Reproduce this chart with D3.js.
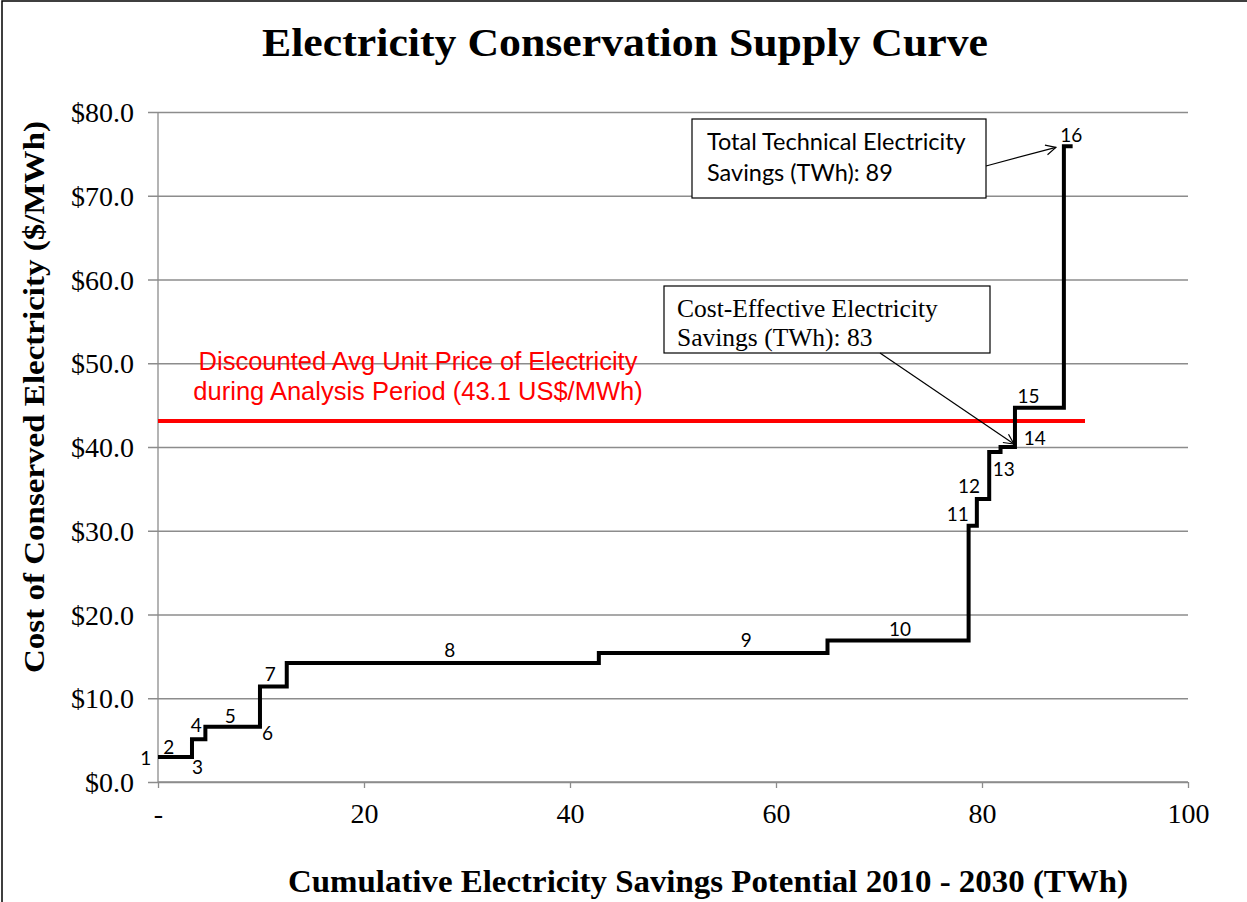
<!DOCTYPE html>
<html>
<head>
<meta charset="utf-8">
<script src="https://cdn.jsdelivr.net/npm/d3@7"></script>
<style>
  body { margin: 0; background: #fff; }
  .grid line { stroke: #8c8c8c; stroke-width: 1.3; }
  .grid path { display: none; }
</style>
</head>
<body>
<div id="chart"></div>
<script>
// measure ids, cumulative savings at end of each measure (TWh), cost of conserved electricity ($/MWh)
const measureIds = [1, 2, 3, 4, 5, 6, 7, 8, 9, 10, 11, 12, 13, 14, 15, 16];
const cumulativeSavings = [0.15, 3.3, 4.0, 4.6, 9.8, 9.9, 12.5, 42.8, 65.0, 78.7, 79.5, 80.7, 81.8, 83.2, 87.95, 88.8];
const costPerMWh = [3.0, 3.0, 5.1, 5.1, 6.6, 6.6, 11.4, 14.2, 15.4, 16.9, 30.6, 33.8, 39.4, 40.0, 44.7, 75.9];

const yTicks = [0, 10, 20, 30, 40, 50, 60, 70, 80];
const xTicks = [0, 20, 40, 60, 80, 100];
const avgPrice = 43.1;
const avgPriceEnd = 90;
const totalSavings = 89;
const costEffectiveSavings = 83;

// label placement (px, relative to middle of each step)
const labelOffsets = [[-13, 1], [-7, -10], [2, 27], [-6, -15], [-2, -11], [8, 6], [-3, -13], [7, -14],
  [33, -14], [2, -12], [-15, -12], [-14, -13], [9, 16], [27, -10], [-11, -12], [3, -12]];

const serif = "'Liberation Serif', 'Times New Roman', serif";
const W = 1247, H = 902;
const margin = { top: 112, right: 59, bottom: 120, left: 158 };
const width = W - margin.left - margin.right,
      height = H - margin.top - margin.bottom;

const svg = d3.select("#chart").append("svg")
    .attr("width", W)
    .attr("height", H);

svg.append("rect")
    .attr("x", 2).attr("y", 1)
    .attr("width", W + 20).attr("height", H + 20)
    .attr("fill", "#fff").attr("stroke", "#000").attr("stroke-width", 1.5);

svg.append("defs").append("marker")
    .attr("id", "arrow")
    .attr("viewBox", "0 0 12 12")
    .attr("refX", 11).attr("refY", 6)
    .attr("markerWidth", 12).attr("markerHeight", 12)
    .attr("markerUnits", "userSpaceOnUse")
    .attr("orient", "auto")
    .append("path")
    .attr("d", "M1,1 L11,6 L1,11")
    .attr("fill", "none").attr("stroke", "#000").attr("stroke-width", 1.2);

const g = svg.append("g").attr("transform", "translate(" + margin.left + "," + margin.top + ")");

const x = d3.scaleLinear().domain([0, 100]).range([0, width]);
const y = d3.scaleLinear().domain([0, 80]).range([height, 0]);

// horizontal gridlines + y labels
g.append("g")
    .attr("class", "grid")
    .call(d3.axisLeft(y).tickValues(yTicks).tickSize(-width).tickSizeOuter(0)
        .tickFormat(d => "$" + d.toFixed(1)))
    .call(s => s.selectAll(".tick line").attr("x1", -10))
    .call(s => s.selectAll(".tick text").attr("x", -24).attr("dy", "0.34em")
        .style("font-family", serif).style("font-size", "28px").attr("fill", "#000"));

// y axis line
g.append("line")
    .attr("x1", 0).attr("x2", 0).attr("y1", 0).attr("y2", height)
    .attr("stroke", "#8c8c8c").attr("stroke-width", 1.3);

// x axis
g.append("g")
    .attr("class", "grid")
    .attr("transform", "translate(0," + height + ")")
    .call(d3.axisBottom(x).tickValues(xTicks).tickSize(6).tickSizeOuter(0)
        .tickFormat(d => d === 0 ? "-" : d))
    .call(s => s.selectAll(".tick text").attr("y", 21).attr("dy", "0.71em")
        .style("font-family", serif).style("font-size", "28px").attr("fill", "#000"));

g.append("line")
    .attr("x1", 0).attr("x2", width).attr("y1", height).attr("y2", height)
    .attr("stroke", "#8c8c8c").attr("stroke-width", 1.3);

// supply curve
const steps = measureIds.map((id, i) => ({
    id: id,
    start: i === 0 ? 0 : cumulativeSavings[i - 1],
    end: cumulativeSavings[i],
    cost: costPerMWh[i]
}));

const pts = [[0, costPerMWh[0]]].concat(steps.map(d => [d.end, d.cost]));

const line = d3.line()
    .x(d => x(d[0]))
    .y(d => y(d[1]))
    .curve(d3.curveStepBefore);

// average price line
g.append("line")
    .attr("x1", x(0)).attr("x2", x(avgPriceEnd))
    .attr("y1", y(avgPrice)).attr("y2", y(avgPrice))
    .attr("stroke", "#ff0000").attr("stroke-width", 4);

g.append("path")
    .datum(pts)
    .attr("d", line)
    .attr("fill", "none")
    .attr("stroke", "#000")
    .attr("stroke-width", 4)
    .attr("stroke-linejoin", "miter");

g.selectAll(".step-label")
    .data(steps)
    .enter().append("text")
    .attr("class", "step-label")
    .attr("x", (d, i) => (x(d.start) + x(d.end)) / 2 + labelOffsets[i][0])
    .attr("y", (d, i) => y(d.cost) + labelOffsets[i][1])
    .attr("text-anchor", "middle")
    .attr("dominant-baseline", "central")
    .style("font-family", "Lato, 'Open Sans', sans-serif")
    .style("font-size", "19px")
    .text(d => d.id);

// red annotation
const redText = svg.append("text")
    .attr("text-anchor", "middle")
    .style("font-family", "'Liberation Sans', Arial, sans-serif")
    .style("font-size", "25.5px")
    .attr("fill", "#ff0000");
redText.append("tspan").attr("x", 418).attr("y", 370).text("Discounted Avg Unit Price of Electricity");
redText.append("tspan").attr("x", 418).attr("y", 400).text("during Analysis Period (" + avgPrice + " US$/MWh)");

// total technical savings box
const last = steps[steps.length - 1];
svg.append("rect")
    .attr("x", 692).attr("y", 119).attr("width", 294).attr("height", 79)
    .attr("fill", "#fff").attr("stroke", "#000").attr("stroke-width", 1.2);
const box1 = svg.append("text")
    .style("font-family", "Lato, 'Open Sans', sans-serif")
    .style("font-size", "23.5px");
box1.append("tspan").attr("x", 707).attr("y", 150).text("Total Technical Electricity");
box1.append("tspan").attr("x", 707).attr("y", 181).text("Savings (TWh): " + totalSavings);
svg.append("line")
    .attr("x1", 986).attr("y1", 166)
    .attr("x2", margin.left + x(last.start) - 8).attr("y2", margin.top + y(last.cost) + 1)
    .attr("stroke", "#000").attr("stroke-width", 1.2)
    .attr("marker-end", "url(#arrow)");

// cost-effective savings box
const s14 = steps[13];
svg.append("rect")
    .attr("x", 664).attr("y", 286).attr("width", 326).attr("height", 67)
    .attr("fill", "#fff").attr("stroke", "#000").attr("stroke-width", 1.2);
const box2 = svg.append("text")
    .style("font-family", serif)
    .style("font-size", "25.5px");
box2.append("tspan").attr("x", 677).attr("y", 317).text("Cost-Effective Electricity");
box2.append("tspan").attr("x", 677).attr("y", 346).text("Savings (TWh): " + costEffectiveSavings);
svg.append("line")
    .attr("x1", 880).attr("y1", 353)
    .attr("x2", margin.left + x(s14.end) - 1).attr("y2", margin.top + y(s14.cost) - 3)
    .attr("stroke", "#000").attr("stroke-width", 1.2)
    .attr("marker-end", "url(#arrow)");

// titles
svg.append("text")
    .attr("x", 625).attr("y", 56)
    .attr("text-anchor", "middle")
    .style("font-family", serif)
    .style("font-weight", "bold")
    .style("font-size", "40px")
    .attr("textLength", 726).attr("lengthAdjust", "spacingAndGlyphs")
    .text("Electricity Conservation Supply Curve");

svg.append("text")
    .attr("x", 708).attr("y", 892)
    .attr("text-anchor", "middle")
    .style("font-family", serif)
    .style("font-weight", "bold")
    .style("font-size", "31px")
    .attr("textLength", 840).attr("lengthAdjust", "spacingAndGlyphs")
    .text("Cumulative Electricity Savings Potential 2010 - 2030 (TWh)");

svg.append("text")
    .attr("transform", "translate(44,397) rotate(-90)")
    .attr("text-anchor", "middle")
    .style("font-family", serif)
    .style("font-weight", "bold")
    .style("font-size", "29px")
    .attr("textLength", 552).attr("lengthAdjust", "spacingAndGlyphs")
    .text("Cost of Conserved Electricity ($/MWh)");
</script>
</body>
</html>
